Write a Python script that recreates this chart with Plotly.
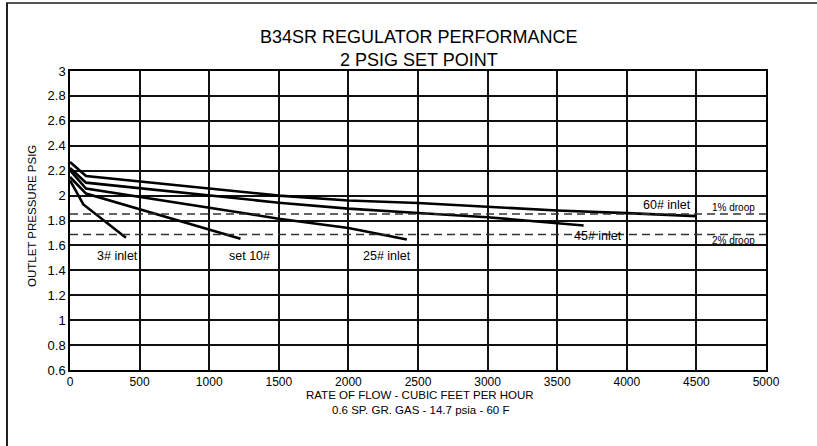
import plotly.graph_objects as go

# ---- data ----
x_60 = [0, 115, 1500, 2000, 2500, 3000, 3500, 4000, 4500]
y_60 = [2.27, 2.157, 2.0, 1.961, 1.94, 1.907, 1.88, 1.859, 1.835]

x_45 = [0, 115, 1500, 2000, 2500, 3000, 3690]
y_45 = [2.221, 2.104, 1.943, 1.895, 1.86, 1.826, 1.76]

x_25 = [0, 115, 1300, 1500, 2000, 2420]
y_25 = [2.203, 2.056, 1.85, 1.814, 1.74, 1.647]

x_10 = [0, 115, 1225]
y_10 = [2.149, 2.016, 1.653]

x_3 = [0, 96, 402]
y_3 = [2.122, 1.929, 1.661]

droop_1pct = 1.852
droop_2pct = 1.688

curve_labels = [
    ("60# inlet", 4290, 1.921),
    ("45# inlet", 3795, 1.677),
    ("3# inlet", 338, 1.518),
    ("set 10#", 1286, 1.518),
    ("25# inlet", 2277, 1.518),
]
droop_labels = [("1% droop", 4765, 1.905), ("2% droop", 4765, 1.637)]

x_ticks = list(range(0, 5001, 500))
y_ticks = [0.6, 0.8, 1, 1.2, 1.4, 1.6, 1.8, 2, 2.2, 2.4, 2.6, 2.8, 3]

FONT = "Liberation Sans, Arial, sans-serif"

fig = go.Figure()
for xs, ys in [(x_60, y_60), (x_45, y_45), (x_25, y_25), (x_10, y_10), (x_3, y_3)]:
    fig.add_trace(go.Scatter(x=xs, y=ys, mode="lines",
                             line=dict(color="black", width=2.6),
                             showlegend=False, hoverinfo="skip"))

for yv in (droop_1pct, droop_2pct):
    fig.add_trace(go.Scatter(x=[0, 5000], y=[yv, yv], mode="lines",
                             line=dict(color="#333333", width=1.5, dash="8px,5px"),
                             showlegend=False, hoverinfo="skip"))

annotations = []
for txt, xv, yv in curve_labels:
    annotations.append(dict(x=xv, y=yv, xref="x", yref="y", text=txt, showarrow=False,
                            xanchor="center", yanchor="middle",
                            font=dict(family=FONT, size=12.5, color="black")))
for txt, xv, yv in droop_labels:
    annotations.append(dict(x=xv, y=yv, xref="x", yref="y", text=txt, showarrow=False,
                            xanchor="center", yanchor="middle",
                            font=dict(family=FONT, size=10, color="black")))

PH = 299.0
PW = 696.0
def py(pix):
    return (370 - pix) / PH
def px(pix):
    return (pix - 70) / PW

annotations += [
    dict(x=px(418), y=py(37), xref="paper", yref="paper", text="B34SR REGULATOR PERFORMANCE",
         showarrow=False, xanchor="center", yanchor="middle",
         font=dict(family=FONT, size=18, color="black")),
    dict(x=px(419), y=py(60), xref="paper", yref="paper", text="2 PSIG SET POINT",
         showarrow=False, xanchor="center", yanchor="middle",
         font=dict(family=FONT, size=18, color="black")),
    dict(x=px(420), y=py(395), xref="paper", yref="paper",
         text="RATE OF FLOW - CUBIC FEET PER HOUR",
         showarrow=False, xanchor="center", yanchor="middle",
         font=dict(family=FONT, size=11.5, color="black")),
    dict(x=px(420), y=py(410), xref="paper", yref="paper",
         text="0.6 SP. GR. GAS - 14.7 psia - 60 F",
         showarrow=False, xanchor="center", yanchor="middle",
         font=dict(family=FONT, size=11.5, color="black")),
    dict(x=px(32), y=py(216), xref="paper", yref="paper",
         text="OUTLET PRESSURE PSIG", textangle=-90,
         showarrow=False, xanchor="center", yanchor="middle",
         font=dict(family=FONT, size=11.5, color="black")),
]

fig.update_layout(
    width=817, height=446,
    margin=dict(l=70, r=51, t=71, b=76),
    paper_bgcolor="white", plot_bgcolor="white",
    annotations=annotations,
    shapes=[
        dict(type="line", xref="paper", yref="paper",
             x0=px(6), x1=px(817), y0=py(3), y1=py(3),
             line=dict(color="#555555", width=2), layer="below"),
        dict(type="line", xref="paper", yref="paper",
             x0=px(7), x1=px(7), y0=py(3), y1=py(446),
             line=dict(color="#222222", width=2), layer="below"),
    ],
)
fig.update_xaxes(range=[0, 5000], tickvals=x_ticks, ticktext=[str(v) for v in x_ticks],
                 showgrid=True, gridcolor="#111111", gridwidth=1.5,
                 showline=True, linecolor="black", linewidth=1.5, mirror=True,
                 zeroline=False, ticks="", tickfont=dict(family=FONT, size=12, color="black"))
fig.update_yaxes(range=[0.6, 3], tickvals=y_ticks, ticktext=[f"{v:g}" for v in y_ticks],
                 showgrid=True, gridcolor="#111111", gridwidth=1.5,
                 showline=True, linecolor="black", linewidth=1.5, mirror=True,
                 zeroline=False, ticks="", tickfont=dict(family=FONT, size=13, color="black"))

fig.write_html("out.html", config={"displayModeBar": False},
               post_script="document.body.style.margin='0';document.body.style.overflow='hidden';")
